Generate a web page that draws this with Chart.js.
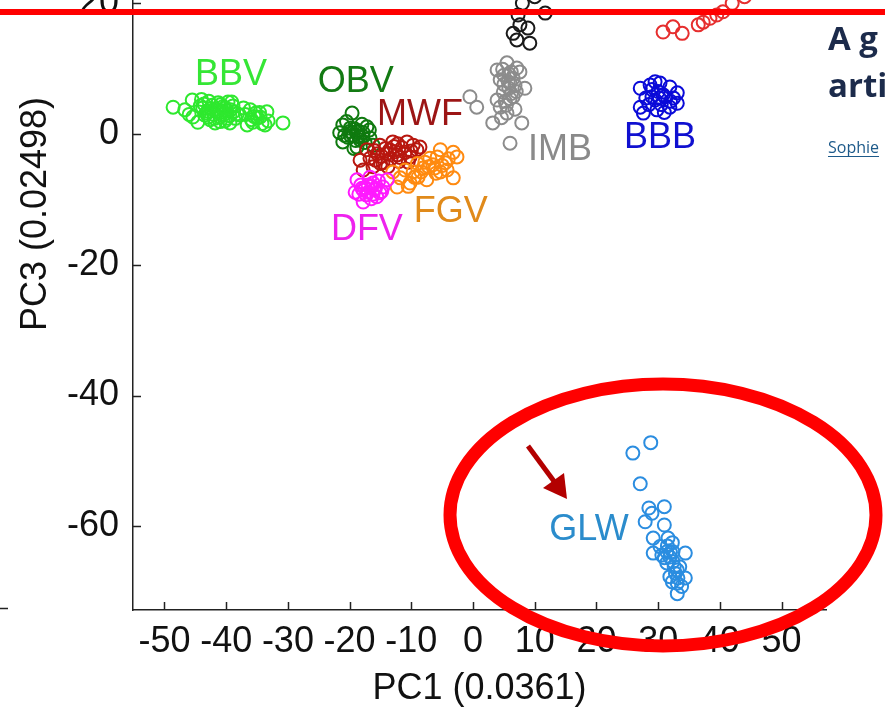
<!DOCTYPE html>
<html>
<head>
<meta charset="utf-8">
<script src="https://cdn.jsdelivr.net/npm/chart.js@4.4.0/dist/chart.umd.min.js"></script>
<style>
    html, body { margin: 0; padding: 0; background: #fff; }
    #wrap { width: 885px; height: 709px; }
</style>
</head>
<body>
<div id="wrap"><canvas id="pcaChart" width="885" height="709"></canvas></div>
<script>
// tick labels
var xTicks = [-50, -40, -30, -20, -10, 0, 10, 20, 30, 40, 50];
var yTicks = [-60, -40, -20, 0, 20];

// PC1 / PC3 scores per group
var bbv = [[-48.6,4.1],[-46.7,3.7],[-45.5,5.2],[-45.4,2.6],[-44.6,1.8],[-44.2,4.3],[-43.8,4.0],[-43.5,2.9],
    [-43.0,3.5],[-42.8,5.0],[-42.6,2.2],[-42.3,4.4],[-42.0,3.0],[-41.8,1.7],[-41.6,3.8],[-41.3,4.8],[-41.0,2.6],
    [-40.8,3.3],[-40.5,4.2],[-40.2,2.0],[-40.0,3.6],[-39.7,4.9],[-39.4,2.8],[-39.1,4.9],[-39.4,1.7],[-38.8,3.4],
    [-38.5,2.4],[-37.8,2.9],[-37.2,4.0],[-36.6,1.4],[-36.1,3.7],[-35.9,2.2],[-35.7,1.8],[-35.2,3.2],[-34.9,2.5],
    [-34.5,2.6],[-34.2,1.6],[-33.7,1.4],[-33.4,3.4],[-33.2,2.0],[-30.8,1.7],[-46.0,3.0],[-44.0,5.3],
    [-43.2,3.2],[-42.5,3.9],[-41.9,2.4],[-41.4,3.3],[-40.9,4.5],[-40.4,3.0],[-39.9,2.4],[-39.3,3.7],[-38.9,4.3],
    [-42.9,2.6],[-43.6,4.6],[-41.0,1.9],[-40.2,4.0],[-38.2,3.1],[-36.9,3.0],[-35.5,2.7],[-34.6,3.3]];
var obv = [[-19.6,3.2],[-21.1,1.4],[-21.6,0.2],[-21.1,-1.2],[-19.4,-0.2],[-17.8,0.2],[-16.7,-0.6],[-18.8,-2.0],
    [-16.2,-1.7],[-19.9,0.9],[-17.2,1.1],[-18.3,-0.9],[-20.3,-0.5],[-18.6,0.5],[-17.5,-1.3],[-19.0,-1.0],
    [-20.5,1.9],[-18.0,1.5],[-19.3,-2.2],[-16.8,0.6],[-19.8,-0.3],[-18.9,0.3],[-20.0,0.4],[-18.5,-0.4],
    [-19.2,0.8],[-20.8,-0.2],[-17.9,-0.3]];
var mwf = [[-18.3,-4.0],[-17.2,-2.4],[-15.1,-1.7],[-13.0,-1.2],[-10.7,-1.2],[-9.1,-2.4],[-8.6,-2.0],[-12.3,-3.2],
    [-16.2,-5.0],[-17.8,-5.5],[-14.6,-4.4],[-10.2,-3.5],[-13.5,-2.4],[-11.5,-2.1],[-16.7,-3.7],[-9.7,-1.7],
    [-14.0,-3.0],[-12.0,-4.2],[-15.5,-3.0],[-11.0,-2.8],[-13.8,-5.0],[-16.0,-2.5],[-10.5,-4.3],[-12.8,-1.9],[-15.0,-4.5],
    [-14.2,-2.2],[-12.6,-2.7],[-11.8,-3.6],[-13.3,-3.8],[-14.8,-3.4],[-10.0,-2.6],[-12.2,-1.5],[-15.8,-4.0]];
var dfv = [[-18.8,-7.0],[-17.8,-8.6],[-16.2,-7.5],[-14.6,-8.1],[-13.9,-7.0],[-17.8,-10.4],[-15.6,-9.6],[-19.1,-8.9],
    [-16.7,-6.6],[-15.1,-9.0],[-17.0,-7.8],[-16.0,-8.5],[-18.2,-7.8],[-15.3,-7.2],[-17.3,-9.3],[-16.5,-9.9],
    [-14.8,-8.8],[-18.5,-9.2],[-17.5,-8.2],[-16.4,-8.0],[-15.8,-8.3],[-17.0,-8.9],[-16.2,-9.2],[-18.0,-8.3]];
var fgv = [[-5.3,-2.4],[-3.2,-2.8],[-7.0,-3.7],[-4.5,-4.4],[-3.2,-6.7],[-5.3,-5.8],[-8.1,-5.2],[-9.7,-5.8],
    [-11.8,-6.7],[-12.3,-8.1],[-10.2,-7.5],[-7.5,-7.0],[-13.0,-5.8],[-4.2,-5.5],[-6.5,-4.7],[-8.9,-6.6],
    [-6.0,-6.0],[-9.0,-4.5],[-11.0,-5.5],[-7.8,-4.3],[-5.8,-3.5],[-10.5,-8.0],[-2.6,-3.5],
    [-7.2,-5.0],[-8.4,-5.8],[-6.2,-5.2],[-9.5,-6.6],[-5.0,-4.8],[-4.0,-3.8]];
var imb = [[3.9,9.8],[5.5,10.9],[7.1,10.1],[7.6,9.5],[4.4,8.3],[6.0,7.8],[8.4,7.0],[4.9,6.4],[6.5,5.7],[3.9,5.2],
    [4.4,4.1],[5.5,3.2],[3.2,1.7],[7.9,1.7],[6.0,-1.4],[0.6,4.1],[-0.5,5.7],[5.0,9.0],[6.5,8.5],[5.8,7.0],
    [7.0,6.5],[5.2,5.0],[6.8,3.8],[4.6,2.5],[5.7,8.0],[6.2,9.5],[5.8,9.2],[6.8,7.4],[5.0,7.6],[6.2,6.2],
    [5.4,4.4],[6.0,5.4],[4.8,9.9]];
var blk = [[7.6,16.7],[6.5,15.4],[8.9,16.2],[7.1,14.4],[9.2,13.9],[7.3,18.2],[11.7,18.5],[8.0,20.0],[10.0,21.0]];
var red = [[30.8,15.6],[32.4,16.4],[33.9,15.4],[36.5,16.7],[37.3,17.1],[38.4,17.7],[39.5,18.2],[40.5,18.7],
    [42.0,20.0],[44.0,21.0]];
var bbb = [[27.1,7.0],[30.3,7.8],[33.1,6.3],[27.1,4.1],[27.6,3.2],[29.8,3.7],[31.9,4.1],[29.0,5.7],[31.1,5.7],
    [33.1,4.7],[28.7,7.5],[31.9,7.2],[30.0,6.5],[28.0,5.5],[32.5,5.5],[30.5,4.5],[29.5,8.0],[31.0,3.3],
    [29.5,5.2],[30.8,6.0],[28.5,4.5],[32.0,5.0],[30.2,5.5],[29.0,6.8]];
var glw = [[25.9,-48.8],[28.8,-47.2],[27.1,-53.5],[28.5,-57.2],[31.0,-57.0],[29.0,-58.0],[27.9,-59.3],[31.0,-59.8],
    [29.2,-61.8],[31.6,-61.8],[32.3,-62.5],[30.3,-63.1],[29.2,-64.1],[31.4,-63.9],[34.4,-64.1],[31.9,-64.7],
    [32.4,-65.4],[31.4,-65.6],[33.1,-66.7],[31.9,-67.7],[33.2,-67.9],[34.4,-67.9],[32.3,-68.5],[33.1,-68.7],
    [33.1,-70.3],[33.5,-66.2],[30.6,-64.4],[32.4,-63.9],[31.5,-63.0],[32.0,-64.0],[31.0,-64.8],[32.6,-66.2],
    [32.8,-67.2],[33.8,-69.2]];

// group names and where their labels sit (data units)
var groupLabels = [
    { text: "BBV", x: -39.2, y: 9.0, color: "#35e635" },
    { text: "OBV", x: -19.0, y: 8.0, color: "#137a13" },
    { text: "MWF", x: -8.6, y: 2.9, color: "#9c1515" },
    { text: "IMB", x: 14.1, y: -2.4, color: "#8a8a8a" },
    { text: "BBB", x: 30.3, y: -0.6, color: "#1010d0" },
    { text: "DFV", x: -17.2, y: -14.7, color: "#ee22ee" },
    { text: "FGV", x: -3.6, y: -11.9, color: "#e08a1a" },
    { text: "GLW", x: 18.8, y: -60.6, color: "#2b8ccc" }
];

function group(name, pts, color) {
    return {
        label: name,
        data: pts.map(function (p) { return { x: p[0], y: p[1] }; }),
        pointStyle: "circle",
        pointRadius: 6.5,
        pointHoverRadius: 6.5,
        pointBorderWidth: 2,
        pointBorderColor: color,
        pointBackgroundColor: "rgba(0,0,0,0)"
    };
}

function noPad(s) {
    s.paddingTop = 0;
    s.paddingBottom = 0;
    s.paddingLeft = 0;
    s.paddingRight = 0;
}

var overlay = {
    id: "overlay",
    beforeDraw: function (chart) {
        var ctx = chart.ctx;
        ctx.save();
        ctx.fillStyle = "#fff";
        ctx.fillRect(0, 0, chart.width, chart.height);
        ctx.restore();
    },
    afterDraw: function (chart) {
        var ctx = chart.ctx;
        var xs = chart.scales.x, ys = chart.scales.y;
        var area = chart.chartArea;
        ctx.save();

        // inward tick marks
        ctx.strokeStyle = "#222";
        ctx.lineWidth = 1.5;
        ctx.beginPath();
        xs.ticks.forEach(function (t) {
            var px = Math.round(xs.getPixelForValue(t.value)) + 0.5;
            ctx.moveTo(px, area.bottom);
            ctx.lineTo(px, area.bottom - 8);
        });
        ys.ticks.forEach(function (t) {
            var py = Math.round(ys.getPixelForValue(t.value)) + 0.5;
            ctx.moveTo(area.left, py);
            ctx.lineTo(area.left + 8, py);
        });
        ctx.moveTo(0, 608.5);
        ctx.lineTo(8, 608.5);
        ctx.stroke();

        // group labels
        ctx.font = "36px 'Liberation Sans', Arial, sans-serif";
        ctx.textAlign = "center";
        ctx.textBaseline = "middle";
        groupLabels.forEach(function (g) {
            ctx.fillStyle = g.color;
            ctx.fillText(g.text, xs.getPixelForValue(g.x), ys.getPixelForValue(g.y));
        });

        // y axis title
        ctx.save();
        ctx.translate(36, 214);
        ctx.rotate(-Math.PI / 2);
        ctx.fillStyle = "#111";
        ctx.fillText("PC3 (0.02498)", 0, 0);
        ctx.restore();

        // page clipping on the right
        ctx.fillStyle = "#fff";
        ctx.fillRect(812, 16, 73, 154);
        ctx.fillStyle = "#1c2b4b";
        ctx.textAlign = "left";
        ctx.textBaseline = "alphabetic";
        ctx.font = "bold 33px 'Open Sans', 'Noto Sans', sans-serif";
        ctx.fillText("A g", 828, 50);
        ctx.fillText("arti", 828, 97);
        ctx.font = "16px 'Open Sans', 'Noto Sans', sans-serif";
        ctx.fillStyle = "#1d5a8a";
        ctx.fillText("Sophie", 828, 153);
        var w = ctx.measureText("Sophie").width;
        ctx.fillRect(828, 156, w, 1);

        // red top bar
        ctx.fillStyle = "#ff0000";
        ctx.fillRect(0, 9, chart.width, 6);

        // red ellipse
        ctx.strokeStyle = "#ff0000";
        ctx.lineWidth = 13;
        ctx.beginPath();
        ctx.ellipse(663, 515, 213, 131, 0, 0, Math.PI * 2);
        ctx.stroke();

        // arrow
        ctx.strokeStyle = "#b30000";
        ctx.fillStyle = "#b30000";
        ctx.lineWidth = 5;
        ctx.beginPath();
        ctx.moveTo(528, 446);
        ctx.lineTo(556, 484);
        ctx.stroke();
        ctx.beginPath();
        ctx.moveTo(567, 499);
        ctx.lineTo(543, 488);
        ctx.lineTo(564, 473);
        ctx.closePath();
        ctx.fill();

        ctx.restore();
    }
};

var tickFont = { family: "'Liberation Sans', Arial, sans-serif", size: 36 };

var chart = new Chart(document.getElementById("pcaChart").getContext("2d"), {
    type: "scatter",
    data: {
        datasets: [
            group("DFV", dfv, "#ff1aff"),
            group("FGV", fgv, "#ff8a10"),
            group("MWF", mwf, "#b8170f"),
            group("OBV", obv, "#0f7a0f"),
            group("BBV", bbv, "#2ee82e"),
            group("IMB", imb, "#8c8c8c"),
            group("black", blk, "#1a1a1a"),
            group("red", red, "#e62e2e"),
            group("BBB", bbb, "#0a0ad8"),
            group("GLW", glw, "#2b8de0")
        ]
    },
    options: {
        responsive: false,
        animation: false,
        layout: { autoPadding: false, padding: { top: 0, right: 59, bottom: 0, left: 0 } },
        scales: {
            x: {
                type: "linear",
                min: -55.1,
                max: 57.2,
                afterBuildTicks: function (s) { s.ticks = xTicks.map(function (v) { return { value: v }; }); },
                afterFit: function (s) { s.height = 99; noPad(s); },
                grid: { display: false },
                border: { display: true, color: "#222", width: 1.5 },
                ticks: { color: "#111", font: tickFont, padding: 2, maxRotation: 0, autoSkip: false },
                title: { display: true, text: "PC1 (0.0361)", color: "#111", font: tickFont, padding: { top: 0, bottom: -2 } }
            },
            y: {
                type: "linear",
                min: -72.8,
                max: 20.5,
                afterBuildTicks: function (s) { s.ticks = yTicks.map(function (v) { return { value: v }; }); },
                afterFit: function (s) { s.width = 133; noPad(s); },
                grid: { display: false },
                border: { display: true, color: "#222", width: 1.5 },
                ticks: { color: "#111", font: tickFont, padding: 6, autoSkip: false }
            }
        },
        plugins: {
            legend: { display: false },
            tooltip: { enabled: false }
        }
    },
    plugins: [overlay]
});
</script>
</body>
</html>
